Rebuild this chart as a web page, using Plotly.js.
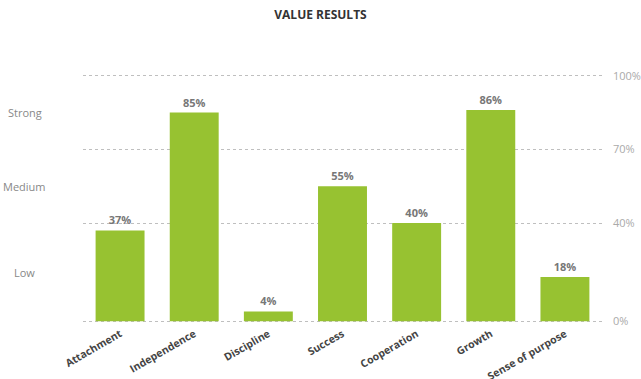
<!DOCTYPE html>
<html>
<head>
<meta charset="utf-8">
<script src="https://cdn.plot.ly/plotly-3.0.1.min.js"></script>
<style>html,body{margin:0;padding:0;background:#fff;}#chart{width:641px;height:379px;}</style>
</head>
<body>
<div id="chart"></div>
<script>
const categories = ['Attachment','Independence','Discipline','Success','Cooperation','Growth','Sense of purpose'];
const values = [37, 85, 4, 55, 40, 86, 18];
const tickValues = [0, 40, 70, 100];
const tickLabels = ['0%', '40%', '70%', '100%'];
const levelLabels = ['Low', 'Medium', 'Strong'];
const levelPositions = [20, 55, 85];

const trace = {
  type: 'bar',
  x: categories,
  y: values,
  marker: {color: '#97c231', line: {width: 0}},
  text: values.map(v => v + '%'),
  textposition: 'outside',
  cliponaxis: false,
  textfont: {family: 'Open Sans', size: 11, color: '#777777', weight: 'bold'},
  hoverinfo: 'none'
};

const annotations = levelLabels.map((t, i) => ({
  text: t,
  xref: 'paper', yref: 'y',
  x: -0.112, y: levelPositions[i],
  xanchor: 'center', yanchor: 'middle',
  showarrow: false,
  font: {family: 'Open Sans', size: 11, color: '#888888'}
}));

const layout = {
  width: 641, height: 379,
  margin: {l: 83, r: 39, t: 72, b: 54},
  paper_bgcolor: '#ffffff', plot_bgcolor: '#ffffff',
  showlegend: false,
  bargap: 0.34,
  title: {text: 'VALUE RESULTS', x: 0.5, xref: 'container', y: 0.96, yref: 'container', yanchor: 'middle',
          font: {family: 'Open Sans', size: 12, color: '#333333', weight: 'bold'}},
  xaxis: {
    type: 'category',
    tickangle: -30,
    showgrid: false, zeroline: false, showline: false, ticks: '',
    tickfont: {family: 'Open Sans', size: 10.5, color: '#444444', weight: 'bold'},
    automargin: false
  },
  yaxis: {
    side: 'right',
    range: [-1.5, 101.5],
    tickvals: tickValues,
    ticktext: tickLabels,
    showgrid: true, gridcolor: '#bfbfbf', griddash: 'dot', gridwidth: 1,
    zeroline: false, showline: false, ticks: '',
    ticklabelstandoff: 10,
    tickfont: {family: 'Open Sans', size: 11, color: '#aaaaaa'},
    automargin: false
  },
  annotations: annotations
};

Plotly.newPlot('chart', [trace], layout, {displayModeBar: false, staticPlot: true});
</script>
</body>
</html>
